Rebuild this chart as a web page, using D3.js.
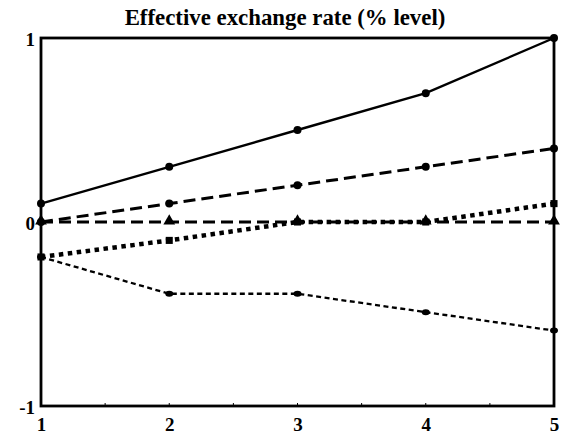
<!DOCTYPE html>
<html>
<head>
<meta charset="utf-8">
<script src="https://cdn.jsdelivr.net/npm/d3@7"></script>
<style>
  html, body { margin: 0; padding: 0; background: #fff; }
  svg { display: block; }
</style>
</head>
<body>
<svg id="chart" width="581" height="437"></svg>
<script>
// Periods along the horizontal axis
const periods = [1, 2, 3, 4, 5];
const xTickLabels = [1, 2, 3, 4, 5];
const yTickLabels = [-1, 0, 1];

// Responses of the effective exchange rate (% level)
const solidSeries  = [0.1, 0.3, 0.5, 0.7, 1.0];
const dashedSeries = [0.0, 0.1, 0.2, 0.3, 0.4];
const flatSeries   = [0.0, 0.0, 0.0, 0.0, 0.0];
const dottedSeries = [-0.19, -0.1, 0.0, 0.0, 0.1];
const fineSeries   = [-0.19, -0.39, -0.39, -0.49, -0.59];

const svg = d3.select("#chart");
const plotLeft = 41, plotRight = 554, plotTop = 38, plotBottom = 406;

const x = d3.scaleLinear().domain([1, 5]).range([plotLeft, plotRight]);
const y = d3.scaleLinear().domain([-1, 1]).range([plotBottom, plotTop]);

const font = "'Liberation Serif', 'Times New Roman', serif";

// Title, sized to span its line
const title = svg.append("text")
  .attr("x", 285).attr("y", 25)
  .attr("text-anchor", "middle")
  .attr("font-family", font).attr("font-weight", "bold")
  .attr("font-size", 20)
  .attr("fill", "#000")
  .text("Effective exchange rate (% level)");
const tw = title.node().getComputedTextLength();
title.attr("font-size", 20 * 321 / tw);

// Line series definitions
const line = d3.line().x((d, i) => x(periods[i])).y(d => y(d));

const series = [
  { values: flatSeries,   dash: "12,6",    width: 3,   marker: "triangle" },
  { values: fineSeries,   dash: "5,3.5",   width: 2.3, marker: "small" },
  { values: dottedSeries, dash: "4.5,4.5", width: 4.5, marker: "square" },
  { values: dashedSeries, dash: "12,6",    width: 3,   marker: "circle" },
  { values: solidSeries,  dash: null,      width: 2.4, marker: "circle" }
];

const plot = svg.append("g");

series.forEach(s => {
  plot.append("path")
    .datum(s.values)
    .attr("d", line)
    .attr("fill", "none")
    .attr("stroke", "#000")
    .attr("stroke-width", s.width)
    .attr("stroke-dasharray", s.dash);

  const pts = s.values.map((v, i) => [x(periods[i]), y(v)]);
  const g = plot.append("g");
  if (s.marker === "circle") {
    g.selectAll("circle").data(pts).join("circle")
      .attr("cx", d => d[0]).attr("cy", d => d[1]).attr("r", 4).attr("fill", "#000");
  } else if (s.marker === "small") {
    g.selectAll("ellipse").data(pts).join("ellipse")
      .attr("cx", d => d[0]).attr("cy", d => d[1]).attr("rx", 4).attr("ry", 3).attr("fill", "#000");
  } else if (s.marker === "square") {
    g.selectAll("path").data(pts).join("path")
      .attr("transform", d => `translate(${d[0]},${d[1]})`)
      .attr("d", d3.symbol(d3.symbolSquare, 50))
      .attr("fill", "#000");
  } else if (s.marker === "triangle") {
    g.selectAll("path").data(pts).join("path")
      .attr("transform", d => `translate(${d[0]},${d[1] - 1})`)
      .attr("d", d3.symbol(d3.symbolTriangle, 60))
      .attr("fill", "#000");
  }
});

// Frame
svg.append("rect")
  .attr("x", plotLeft).attr("y", plotTop)
  .attr("width", plotRight - plotLeft).attr("height", plotBottom - plotTop)
  .attr("fill", "none").attr("stroke", "#000").attr("stroke-width", 2.8);

// Small inward ticks along the bottom edge
svg.append("g").selectAll("line")
  .data(d3.range(1, 5.01, 0.5))
  .join("line")
  .attr("x1", d => x(d)).attr("x2", d => x(d))
  .attr("y1", plotBottom).attr("y2", plotBottom - 3)
  .attr("stroke", "#000").attr("stroke-width", 1);

// Axes (labels only; the frame draws the edges); plain hyphen for negatives
const fmt = d => String(d);
const xAxis = svg.append("g")
  .attr("transform", `translate(0,${plotBottom})`)
  .call(d3.axisBottom(x).tickValues(xTickLabels).tickFormat(fmt).tickSize(0).tickPadding(12));
const yAxis = svg.append("g")
  .attr("transform", `translate(${plotLeft},0)`)
  .call(d3.axisLeft(y).tickValues(yTickLabels).tickFormat(fmt).tickSize(0).tickPadding(6));

[xAxis, yAxis].forEach(a => {
  a.select(".domain").remove();
  a.selectAll("text")
    .attr("font-family", font)
    .attr("font-weight", "bold")
    .attr("font-size", 19)
    .attr("fill", "#000");
});
yAxis.selectAll(".tick text").attr("dy", "0.42em");
</script>
</body>
</html>
